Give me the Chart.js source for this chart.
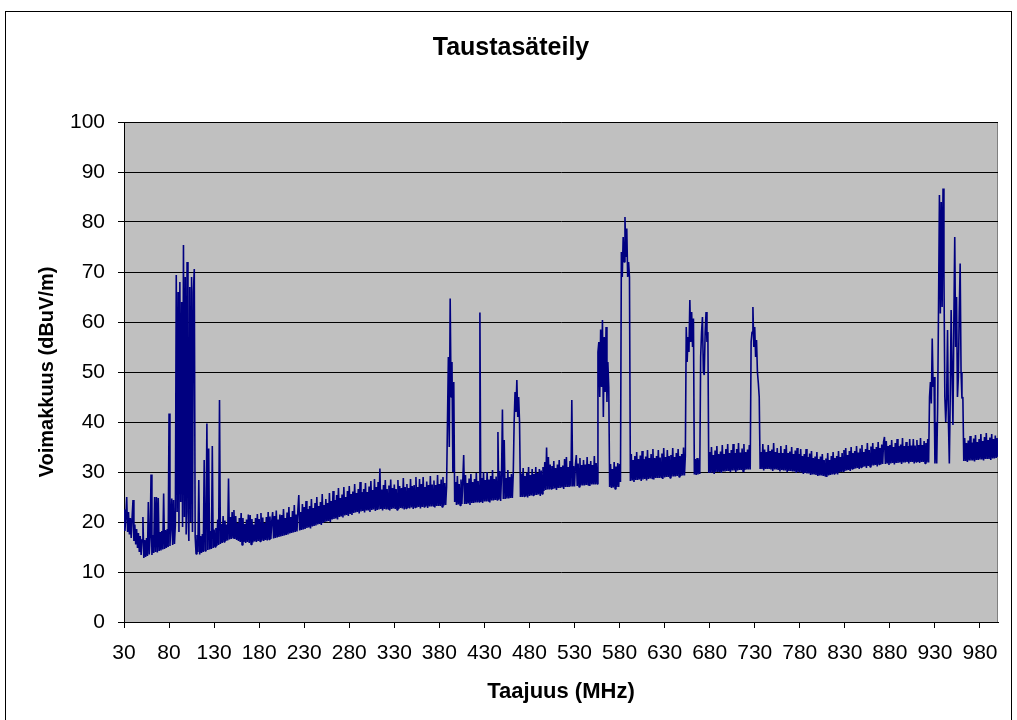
<!DOCTYPE html>
<html>
<head>
<meta charset="utf-8">
<title>Taustasäteily</title>
<script src="https://cdn.jsdelivr.net/npm/chart.js@4/dist/chart.umd.min.js"></script>
<style>
  body { margin: 0; background: #fff; }
  canvas { display: block; }
</style>
</head>
<body>
<canvas id="myChart" width="1017" height="720"></canvas>
<script>
// sweep: 30 MHz .. 1000 MHz, one reading every 1 MHz
const sweepStartMHz = 30;
const sweepStepMHz = 1;

// dBuV/m, 25 readings (25 MHz) per line
const levels30to229 = [
  22.5, 18.2, 21, 25, 18, 22, 17.5, 20.8, 16.8, 21, 24.4, 16.2, 19.5, 15.5, 18.6, 14.8, 17.8, 14, 17.2, 13.4, 16.5, 21, 12.8, 16.4, 13,
  16.8, 13.2, 24, 13.5, 17, 29.5, 13.4, 17.4, 13.8, 25, 14, 25, 13.9, 24.8, 14.2, 18, 14.3, 18.2, 14.5, 25.7, 14.6, 18.4, 14.8, 18.6, 15,
  41.7, 15.2, 18.8, 24.7, 15.4, 24.4, 15.6, 19.5, 69.4, 22, 66, 18, 68, 24, 64, 19, 75.4, 21, 69, 17.5, 72, 22, 16.2, 67, 20,
  69, 18, 66, 70.6, 17, 13.6, 17.4, 14, 28.4, 13.5, 17.2, 13.8, 17.6, 14, 32.4, 14.2, 17.8, 39.7, 14.4, 34.7, 14.5, 18.2, 14.6, 35.2, 14.8,
  18.5, 15, 18.8, 15.2, 20.5, 15.4, 44.4, 15.6, 19.6, 15.8, 21.2, 16, 20.3, 16.2, 19.5, 16.3, 28.7, 16.5, 21, 16.6, 22, 16.8, 22.4, 16.6, 21.2,
  16.4, 19.8, 16.2, 20.8, 16, 21.8, 15.4, 20.8, 16, 19.6, 15.8, 20.5, 16, 21.5, 15.8, 21.4, 15.5, 20.6, 15.9, 19.5, 16.1, 20.8, 16, 21.6, 16.2,
  20.6, 16.1, 21.8, 16.3, 20.9, 16.2, 19.8, 16.4, 21, 16.3, 22, 16.5, 21.1, 16.6, 20.2, 22, 16.7, 21.2, 16.8, 22.3, 16.9, 20.5, 17, 21.5, 17.1,
  21.4, 17.2, 22.6, 17.3, 20.8, 17.4, 21.9, 17.5, 23, 17.7, 21, 17.8, 22.2, 17.9, 23.4, 18, 21.5, 18.1, 22.5, 25.4, 18.3, 22, 18.4, 23.6, 18.5
];
const levels230to429 = [
  23, 18.6, 24.2, 18.8, 22.6, 18.9, 23.2, 18.7, 24.6, 19.1, 22.8, 19.2, 23.8, 19.3, 25, 19.5, 23.2, 19.6, 24, 19.4, 25.6, 19.8, 23.4, 20, 24.6,
  20.1, 23.8, 20.2, 25.8, 20, 24.2, 20.5, 26.2, 20.6, 24.4, 20.7, 25.4, 20.5, 26.8, 21, 24.8, 21.1, 25.5, 20.9, 27, 21.3, 25, 21.4, 26.2, 21.2,
  27.2, 21.6, 25.6, 21.4, 26.1, 21.8, 27.6, 21.9, 25.8, 22, 26.6, 21.7, 28, 22.1, 26, 22.2, 26.6, 21.9, 27.8, 22.3, 26, 22.3, 27.1, 22, 28.2,
  22.4, 26.4, 22.5, 28.6, 22.2, 27, 22.4, 28, 22.5, 30.7, 22.6, 26.5, 22.3, 27.4, 22.6, 28.4, 22.5, 26.6, 22.6, 27.3, 22.3, 28.5, 22.6, 26.8, 22.7,
  27.5, 22.6, 26.6, 22.4, 28.4, 22.6, 27.2, 22.8, 26.8, 22.7, 28.8, 22.5, 27, 22.7, 27.6, 22.8, 26.8, 22.7, 28.6, 22.9, 27.2, 22.6, 27.4, 22.9, 29,
  22.9, 27, 23, 28.6, 22.7, 27.6, 23, 29, 23, 27, 23.1, 28.1, 22.8, 27.4, 23.1, 29.2, 23.1, 27.5, 23.2, 28.3, 22.9, 27.4, 23.2, 29.4, 23.2,
  27.6, 23.2, 28.5, 23, 29, 23.3, 27.8, 23.4, 27, 40, 53, 35, 64.7, 45, 52, 30, 48, 24, 28, 23.4, 29.2, 23.5, 27.6, 23.3, 28.5,
  23.6, 28.3, 33.4, 23.6, 29.4, 23.6, 27.8, 23.7, 28.7, 23.4, 29.6, 23.8, 28, 23.8, 28.6, 23.9, 29.8, 23.9, 28.2, 24, 61.9, 24, 28.8, 23.8, 30
];
const levels430to629 = [
  24.1, 28.4, 24.1, 30, 24.2, 28.5, 23.9, 29.2, 24.3, 30.4, 24.3, 28.6, 24.4, 29.1, 24.4, 38, 24.5, 30.2, 24.2, 29.4, 42.5, 24.6, 36.4, 24.6, 28.8,
  24.7, 30.4, 24.7, 29, 24.8, 29.6, 24.8, 29.5, 40, 46, 42, 48.4, 41, 45, 40, 25, 29.7, 25, 30.8, 25.1, 29.2, 25.1, 29.9, 24.9, 31,
  25.2, 29.4, 25.3, 30.6, 25.3, 29.6, 25.4, 31, 25.4, 29.8, 25.5, 30.6, 25.2, 30.3, 25.6, 31, 26.2, 32, 26.4, 34.9, 26.5, 33, 26.5, 31.5, 26.6,
  31.2, 26.6, 32.2, 26.7, 30.8, 26.4, 31.5, 26.8, 32.4, 26.8, 31, 26.9, 31.3, 26.6, 32.6, 27, 33, 27, 31, 27, 32.2, 27.1, 44.4, 27.1, 31.2,
  27.1, 31.4, 33.4, 27.2, 31.7, 27, 32.8, 27.3, 31.4, 27.3, 32.4, 27.3, 31.5, 27.4, 33, 27.4, 31.6, 27.2, 32.2, 27.5, 31.4, 27.5, 33.2, 27.5, 31.8,
  27.6, 54, 56, 45, 58.5, 47, 60.4, 41, 57, 46, 59, 44, 52, 47, 27, 31.6, 26.8, 30.6, 26.9, 32, 26.6, 31.1, 27, 31.8, 27,
  31.6, 28, 74, 69, 77, 72, 81, 73, 78.7, 69, 72, 69, 28.2, 33.6, 28.3, 32.4, 28, 33.2, 28.4, 34, 28.4, 32.6, 28.5, 33.3, 28.2,
  34.2, 28.5, 32.6, 28.6, 33.1, 28.3, 34.4, 28.6, 32.8, 28.7, 33.6, 28.7, 34.6, 28.5, 32.8, 28.8, 33.2, 28.8, 34.4, 28.8, 32.9, 28.9, 33.7, 28.6, 34.8
];
const levels630to829 = [
  28.9, 33, 29, 34.4, 29, 33.2, 28.8, 33.4, 29.1, 34.8, 29.1, 33, 29.1, 33.8, 29.2, 34.6, 29, 33.2, 29.2, 33.6, 29.3, 34.9, 29.3, 33.2, 59,
  52, 57, 54, 64.4, 56, 62, 55, 60.7, 29.5, 32.6, 29.4, 32.8, 29.5, 32.5, 29.6, 53, 58, 61, 50, 49.4, 58, 62, 56, 58, 29.8,
  34, 29.8, 35, 29.9, 33.4, 29.6, 34.3, 30, 35.2, 30, 33.6, 30, 34.1, 29.8, 35.4, 30.1, 33.6, 30.1, 34.6, 30.2, 35.6, 30.2, 33.8, 30, 34.4,
  30.3, 35.6, 30.3, 33.8, 30, 34.6, 30.3, 35.8, 30.4, 33.9, 30.4, 34.7, 30.1, 35.6, 30.4, 34, 30.5, 34.5, 30.5, 35.4, 30.5, 56, 58, 63, 55,
  59, 53, 56.4, 50, 47.8, 45, 30.6, 34, 30.6, 35.6, 30.3, 34.5, 30.6, 34, 30.6, 35.4, 30.6, 34.2, 30.5, 34.5, 30.2, 35.8, 30.5, 34, 30.5,
  34.8, 30.4, 33.8, 30.1, 35.2, 30.4, 33.8, 30.3, 34.6, 30.3, 35.4, 30, 33.8, 30.2, 34.1, 30.2, 35, 30.1, 33.6, 30.1, 34.3, 29.8, 34.8, 30, 33.6,
  29.9, 34.6, 29.9, 33.2, 29.6, 33.6, 29.8, 34.6, 29.7, 33, 29.7, 33.7, 29.4, 34.2, 29.5, 32.8, 29.5, 33.1, 29.4, 34, 29.2, 32.6, 29.3, 33.1, 29.3,
  33.6, 29.2, 32.4, 29.2, 32.7, 29, 33.8, 29.3, 32.4, 29.4, 33.2, 29.5, 34, 29.6, 32.8, 29.7, 33.2, 29.5, 34.2, 29.9, 33, 30, 33.8, 30.1, 34.4
];
const levels830to1000 = [
  30.2, 34.8, 30.3, 33.4, 30.4, 34.2, 30.2, 35, 30.6, 33.8, 30.6, 34.2, 30.7, 35.2, 30.8, 33.9, 30.6, 34.7, 30.9, 35.4, 31, 34, 31.1, 34.6, 30.8,
  35.8, 31.2, 34.4, 31, 35.1, 31.3, 35.8, 31.3, 34.6, 31.4, 35, 31.1, 36, 31.5, 34.8, 31.5, 35.5, 31.6, 36, 37, 31.6, 36.2, 31.7, 35.2, 31.4,
  35.4, 31.7, 36.4, 31.8, 35, 31.5, 35.8, 31.8, 36.6, 31.8, 35.2, 31.9, 35.5, 31.6, 36.8, 31.9, 35.2, 31.9, 36, 32, 35.2, 31.7, 36.6, 32, 35.3,
  32, 36.6, 31.7, 35.3, 32, 36.4, 32, 35.4, 31.8, 36.8, 32, 35.4, 32, 36.2, 31.7, 35.8, 31.9, 36.6, 31.9, 45, 48, 43.7, 56.7, 47, 49,
  31.7, 40, 31.7, 43, 62.9, 85.4, 61.7, 84, 63, 86.7, 70, 45, 40, 44.7, 58.4, 40, 31.7, 45, 62.4, 50, 39.4, 60, 77, 55, 65,
  45, 49, 62, 71.7, 50, 44.7, 45, 32.2, 36.8, 32.2, 35.8, 32, 36.3, 32.3, 37.2, 32.3, 35.9, 32.3, 36.7, 32.1, 37.4, 32.4, 36, 32.4, 36.6,
  32.5, 37.6, 32.5, 36.2, 32.3, 37, 32.6, 37.8, 32.6, 36.4, 32.6, 36.9, 32.4, 37.6, 32.7, 36.6, 32.7, 37.3, 32.8, 36.8, 33
];

const xTickLabels = [30, 80, 130, 180, 230, 280, 330, 380, 430, 480, 530, 580, 630, 680, 730, 780, 830, 880, 930, 980];

const levels = [].concat(levels30to229, levels230to429, levels430to629, levels630to829, levels830to1000);
const points = levels.map((v, i) => ({ x: sweepStartMHz + i * sweepStepMHz, y: v }));

const plotBackground = {
  id: "plotBackground",
  beforeDraw(chart) {
    const { ctx, chartArea: a } = chart;
    ctx.save();
    ctx.fillStyle = "#fff";
    ctx.fillRect(0, 0, chart.width, chart.height);
    ctx.fillStyle = "#c0c0c0";
    ctx.fillRect(a.left, a.top, a.right - a.left, a.bottom - a.top);
    ctx.strokeStyle = "#808080";
    ctx.lineWidth = 1;
    ctx.strokeRect(a.left + 0.5, a.top + 0.5, a.right - a.left - 1, a.bottom - a.top);
    ctx.restore();
  },
  afterDraw(chart) {
    const ctx = chart.ctx;
    ctx.save();
    ctx.strokeStyle = "#000";
    ctx.lineWidth = 1;
    ctx.strokeRect(5.5, 11.5, 1006, 720);
    ctx.restore();
  }
};

Chart.defaults.font.family = "'Liberation Sans', Arial, sans-serif";
Chart.defaults.color = "#000";

new Chart(document.getElementById("myChart").getContext("2d"), {
  type: "line",
  data: {
    datasets: [
      {
        label: "Taustasäteily",
        data: points,
        borderColor: "#000080",
        borderWidth: 1.6,
        borderJoinStyle: "bevel",
        pointRadius: 0,
        tension: 0,
        fill: false
      }
    ]
  },
  options: {
    responsive: false,
    animation: false,
    layout: { padding: { top: 12, right: 19, bottom: 0, left: 24 } },
    plugins: {
      legend: { display: false },
      tooltip: { enabled: false },
      title: {
        display: true,
        text: "Taustasäteily",
        font: { size: 25, weight: "bold" },
        color: "#000",
        padding: { top: 21, bottom: 59 }
      }
    },
    scales: {
      x: {
        type: "linear",
        min: 30,
        max: 1000,
        afterBuildTicks: (scale) => {
          scale.ticks = xTickLabels.map((v) => ({ value: v }));
        },
        afterFit: (scale) => {
          scale.height = 98;
        },
        ticks: {
          font: { size: 21 },
          color: "#000",
          padding: 13,
          maxRotation: 0,
          autoSkip: false,
          callback: (v) => String(v)
        },
        grid: { drawOnChartArea: false, drawTicks: true, tickLength: 6, color: "#000" },
        border: { display: true, color: "#000", width: 1 },
        title: {
          display: true,
          text: "Taajuus (MHz)",
          font: { size: 22, weight: "bold" },
          color: "#000",
          padding: { top: 0, bottom: 15 }
        }
      },
      y: {
        min: 0,
        max: 100,
        afterFit: (scale) => {
          scale.width = 100;
        },
        ticks: {
          stepSize: 10,
          font: { size: 21 },
          color: "#000",
          padding: 13
        },
        grid: { color: "#000", lineWidth: 1, tickLength: 6 },
        border: { display: true, color: "#000", width: 1 },
        title: {
          display: true,
          text: "Voimakkuus (dBuV/m)",
          font: { size: 20, weight: "bold" },
          color: "#000",
          padding: { top: 11, bottom: 0 }
        }
      }
    }
  },
  plugins: [plotBackground]
});
</script>
</body>
</html>
